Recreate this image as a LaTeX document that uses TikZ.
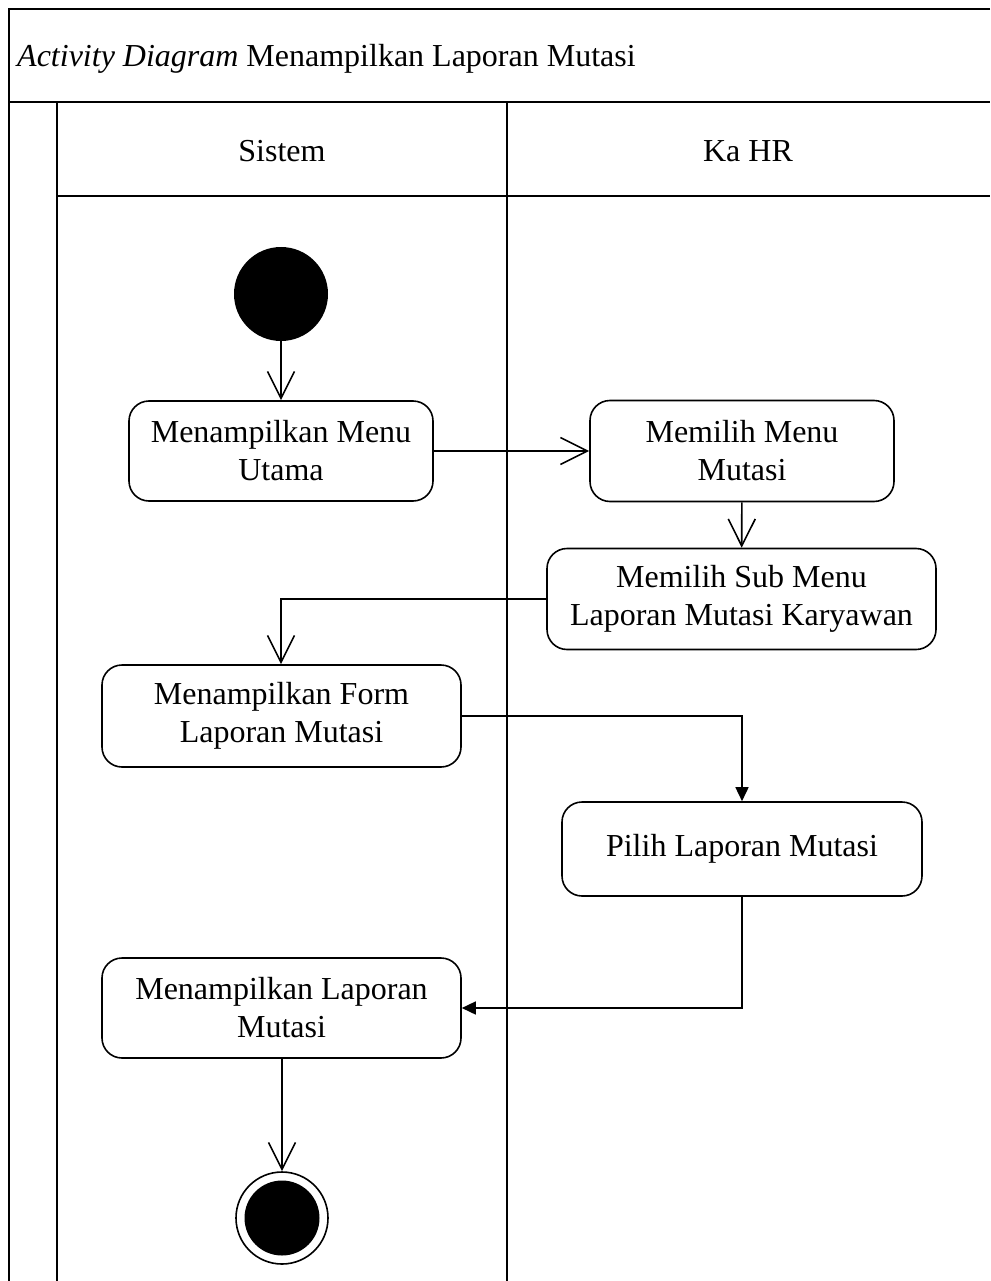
\documentclass[tikz,border=0pt]{standalone}
\usepackage{fontspec}
\setmainfont{Liberation Serif}
\usepackage{tikz}
\usetikzlibrary{arrows.meta}
\usetikzlibrary{shapes.geometric,fit}
\usetikzlibrary{positioning}

\tikzset{
	act/.style={draw, line width=1.6pt, rounded corners=20pt, align=center, inner sep=0pt,
		font=\fontsize{32}{38}\selectfont},
	lane/.style={line width=2pt},
	flow/.style={line width=1.6pt, -{Straight Barb[length=27pt,width=27pt,line width=1.6pt]}},
	flowfill/.style={line width=1.6pt, -{Triangle[length=14pt,width=13pt]}},
}

\begin{document}
\begin{tikzpicture}[x=1pt,y=-1pt]
			\useasboundingbox (0,0) rectangle (990,1281);

			% swimlane frame
			\draw[lane] (990,9) -- (9,9) -- (9,1281);
			\draw[lane] (9,102) -- (990,102);
			\draw[lane] (57,102) -- (57,1281);
			\draw[lane] (507,102) -- (507,1281);
			\draw[lane] (57,196) -- (990,196);
			\node[anchor=west, inner sep=0pt, font=\fontsize{32}{38}\selectfont] (title) at (17,59)
				{\textit{Activity Diagram} Menampilkan Laporan Mutasi};
			\node[font=\fontsize{32}{38}\selectfont] (sistem) at (282,151) {Sistem};
			\node[font=\fontsize{32}{38}\selectfont] (kahr) at (748,151) {Ka HR};

			% activities
			\node[circle, fill=black, minimum size=94pt, inner sep=0pt] (start) at (281,294) {};
			\node[act, minimum width=304pt, minimum height=100pt] (a) at (281,451) {Menampilkan Menu\\Utama};
			\node[act, minimum width=304pt, minimum height=101pt] (b) at (742,451) {Memilih Menu\\Mutasi};
			\node[act, minimum width=389pt, minimum height=101pt] (c) at (741.5,599) {Memilih Sub Menu\\Laporan Mutasi Karyawan};
			\node[act, minimum width=359pt, minimum height=102pt] (d) at (281.5,716) {Menampilkan Form\\Laporan Mutasi};
			\node[act, minimum width=360pt, minimum height=94pt] (e) at (742,849) {Pilih Laporan Mutasi};
			\node[act, minimum width=359pt, minimum height=100pt] (f) at (281.5,1008) {Menampilkan Laporan\\Mutasi};
			\node[circle, draw, line width=1.6pt, minimum size=92pt, inner sep=0pt] (stop) at (282,1218) {};
			\node[circle, fill=black, minimum size=75pt, inner sep=0pt] at (stop) {};

			% transitions
			\draw[flow] (start) -- (a);
			\draw[flow] (a) -- (b);
			\draw[flow] (b) -- (c);
			\draw[flow] (c.west) -| (d.north -| start);
			\draw[flowfill] (d.east) -| (e.north);
			\draw[flowfill] (e.south) |- (f.east);
			\draw[flow] (f.south -| stop) -- (stop.north);
		\end{tikzpicture}
\end{document}
